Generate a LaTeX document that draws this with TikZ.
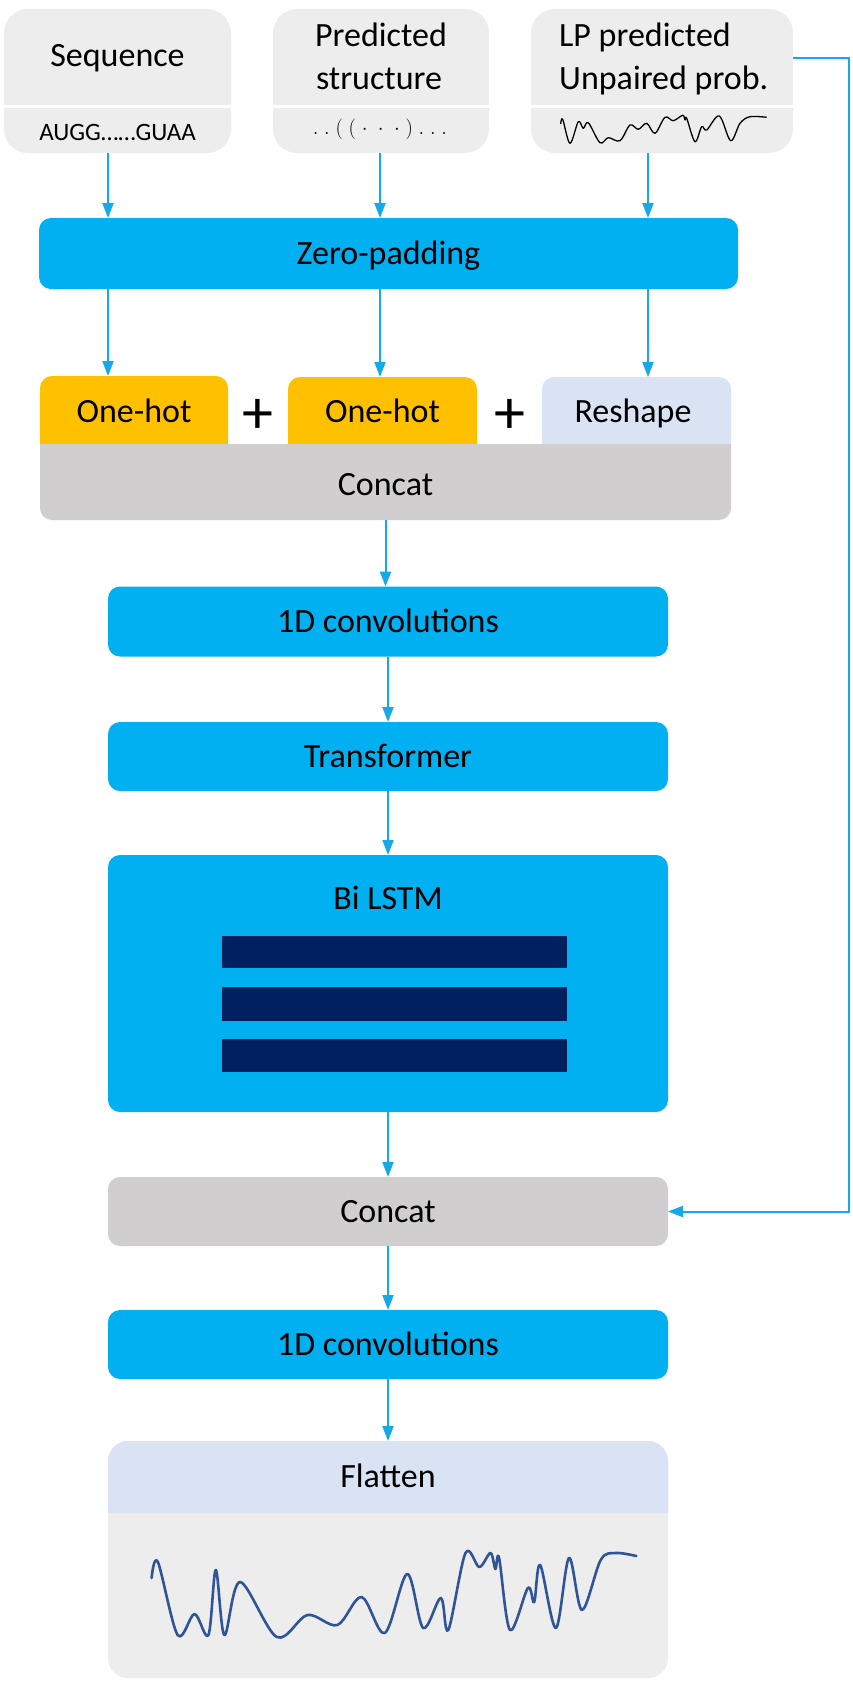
\documentclass[tikz,border=0pt]{standalone}
\usepackage{fontspec}
\setmainfont{Carlito}
\usetikzlibrary{arrows.meta}
\pgfdeclarelayer{background}
\pgfdeclarelayer{canvas}
\pgfsetlayers{canvas,background,main}
\definecolor{cblue}{HTML}{00B0F0}
\definecolor{cnavy}{HTML}{002060}
\definecolor{cgold}{HTML}{FFC000}
\definecolor{clblue}{HTML}{DAE3F3}
\definecolor{cgray}{HTML}{D0CECE}
\definecolor{clgray}{HTML}{EDEDED}
\definecolor{carrow}{HTML}{16A9EA}
\definecolor{cwave}{HTML}{2F5597}
\begin{document}
\begin{tikzpicture}[x=1pt,y=-1pt,
  txt/.style={font=\fontsize{34}{42}\selectfont, text=black, align=center, inner sep=0pt, text height=21.5pt, text depth=0pt},
  small/.style={font=\fontsize{25}{30}\selectfont, text=black, inner sep=0pt, text height=16pt, text depth=0pt},
  plussign/.style={font=\fontsize{62}{62}\selectfont, text=black, inner sep=0pt, anchor=base},
  shapebox/.style={inner sep=0pt, outer sep=0pt},
  bluebox/.style={shapebox, fill=cblue, rounded corners=12pt, txt, minimum width=560pt},
  graybox/.style={shapebox, fill=cgray, rounded corners=12pt, txt, minimum width=560pt},
  topbox/.style={shapebox, fill=clgray, rounded corners=24pt},
  arr/.style={draw=carrow, line width=2pt, -{Triangle[length=15pt,width=11pt]}},
  divider/.style={draw=white, line width=3pt},
]
\useasboundingbox (0,0) rectangle (852,1682);
\begin{pgfonlayer}{canvas}
\fill[white] (0,0) rectangle (852,1682);
\end{pgfonlayer}

% ---------- input boxes ----------
\node[topbox, minimum width=227pt, minimum height=144pt] (seq) at (117.5,81) {};
\node[topbox, minimum width=216pt, minimum height=144pt] (pred) at (381,81) {};
\node[topbox, minimum width=262pt, minimum height=144pt] (lp) at (662,81) {};
\coordinate (div) at (0,106);
\draw[divider] (seq.west |- div) -- (seq.east |- div);
\draw[divider] (pred.west |- div) -- (pred.east |- div);
\draw[divider] (lp.west |- div) -- (lp.east |- div);

\node[txt] (seqt) at (117.5,56) {Sequence};
\node[txt] (predt1) at (381,36) {Predicted};
\node[txt] (predt2) at (379,79) {structure};
\node[txt, anchor=west] (lpt1) at (559,36) {LP predicted};
\node[txt, anchor=west] (lpt2) at (559,79) {Unpaired prob.};
\node[small] (seqs) at (117.5,132) {AUGG……GUAA};
\node[inner sep=0pt, font=\fontsize{22}{26}\selectfont] (preds) at (380,129)
  {$.\;.\;(\;(\;\cdot\;\cdot\;\cdot\;)\;.\;.\;.$};

\draw[black, line width=1.3pt, line join=round] plot[smooth, tension=0.55] coordinates {
 (560.7,124) (562.7,119.3) (570,143.3) (578.3,121.7) (583.3,128.3) (588.3,122.7)
 (600,142.7) (608.3,137.7) (620,140.7) (630,125) (638.3,129.3) (646.7,123.3)
 (655,133.3) (665,117.3) (673.3,120.7) (682.7,115.3) (685,120) (686.7,118.3)
 (695,141.7) (701.7,126.7) (706.7,130) (719.3,116) (730.7,140.7) (740,123.3)
 (750,116.7) (766.7,117.3)};

% ---------- zero padding ----------
\node[bluebox, minimum width=699pt, minimum height=71pt] (zp) at (388.5,253.5) {Zero-padding};

\coordinate (c1) at (108,0);
\coordinate (c2) at (380,0);
\coordinate (c3) at (648,0);
\draw[arr] (seq.south -| c1) -- (zp.north -| c1);
\draw[arr] (pred.south -| c2) -- (zp.north -| c2);
\draw[arr] (lp.south -| c3) -- (zp.north -| c3);

% ---------- encodings + concat ----------
\node[shapebox, minimum width=188pt, minimum height=68pt] (oh1) at (134,410) {};
\node[shapebox, minimum width=189pt, minimum height=67pt] (oh2) at (382.5,410.5) {};
\node[shapebox, minimum width=189pt, minimum height=67pt] (rs) at (636.5,410.5) {};
\node[shapebox, minimum width=691pt, minimum height=76pt] (cc1) at (385.5,482) {};
\begin{pgfonlayer}{background}
\fill[cgold, rounded corners=12pt] (oh1.south west) -- (oh1.north west) -- (oh1.north east) -- (oh1.south east);
\fill[cgold, rounded corners=12pt] (oh2.south west) -- (oh2.north west) -- (oh2.north east) -- (oh2.south east);
\fill[clblue, rounded corners=12pt] (rs.south west) -- (rs.north west) -- (rs.north east) -- (rs.south east);
\fill[cgray, rounded corners=12pt] (cc1.north west) -- (cc1.south west) -- (cc1.south east) -- (cc1.north east);
\end{pgfonlayer}
\node[txt] (oh1t) at (134,412) {One-hot};
\node[txt] (oh2t) at (382.5,412) {One-hot};
\node[txt] (rst) at (633,412) {Reshape};
\node[txt] (cc1t) at (385.5,485) {Concat};
\node[plussign] (p1) at (258,433) {+};
\node[plussign] (p2) at (510,433) {+};

\draw[arr] (zp.south -| c1) -- (oh1.north -| c1);
\draw[arr] (zp.south -| c2) -- (oh2.north -| c2);
\draw[arr] (zp.south -| c3) -- (rs.north -| c3);

% ---------- main stack ----------
\node[bluebox, minimum height=70pt] (conv1) at (388,621.5) {1D convolutions};
\node[bluebox, minimum height=69pt] (trans) at (388,756.5) {Transformer};
\node[bluebox, minimum height=257pt] (lstm) at (388,983.5) {};
\node[txt] (lstmt) at (388,899) {Bi LSTM};
\fill[cnavy] (222,936) rectangle (567,968);
\fill[cnavy] (222,987) rectangle (567,1021);
\fill[cnavy] (222,1039) rectangle (567,1072);
\node[graybox, minimum height=69pt] (cc2) at (388,1211.5) {Concat};
\node[bluebox, minimum height=69pt] (conv2) at (388,1344.5) {1D convolutions};

\node[shapebox, minimum width=560pt, minimum height=237pt] (fl) at (388,1559.5) {};
\coordinate (hb) at (0,1513);
\begin{pgfonlayer}{background}
\fill[clgray, rounded corners=20pt] (fl.north west) rectangle (fl.south east);
\fill[clblue, rounded corners=20pt] (fl.west |- hb) -- (fl.north west) -- (fl.north east) -- (fl.east |- hb);
\end{pgfonlayer}
\node[txt] (flt) at (388,1477) {Flatten};

\draw[cwave, line width=2.6pt, line join=round, line cap=round] plot[smooth, tension=0.55] coordinates {
 (151.6,1578) (157.9,1562) (177.7,1635) (194.5,1614) (208.4,1635) (215.8,1570)
 (224.4,1635) (240.1,1582) (276.8,1637) (307.4,1615) (337.3,1625) (361.6,1597)
 (384.8,1633) (407.2,1574) (423.2,1628) (440.8,1598) (448.3,1630) (465.5,1553)
 (479.3,1567) (490.5,1553) (495.4,1569) (499.1,1558) (510,1630) (527.9,1588)
 (534.2,1602) (540.2,1565) (555.9,1628) (569,1558) (582,1610) (600.7,1560)
 (615.7,1553) (636.3,1556)};

% ---------- connectors ----------
\draw[arr] (cc1.south) -- (cc1.south |- conv1.north);
\draw[arr] (conv1) -- (trans);
\draw[arr] (trans) -- (lstm);
\draw[arr] (lstm) -- (cc2);
\draw[arr] (cc2) -- (conv2);
\draw[arr] (conv2) -- (fl);

\coordinate (loopR) at (849,58);
\draw[arr] (lp.east |- loopR) -- (loopR) |- (cc2.east);
\end{tikzpicture}
\end{document}
